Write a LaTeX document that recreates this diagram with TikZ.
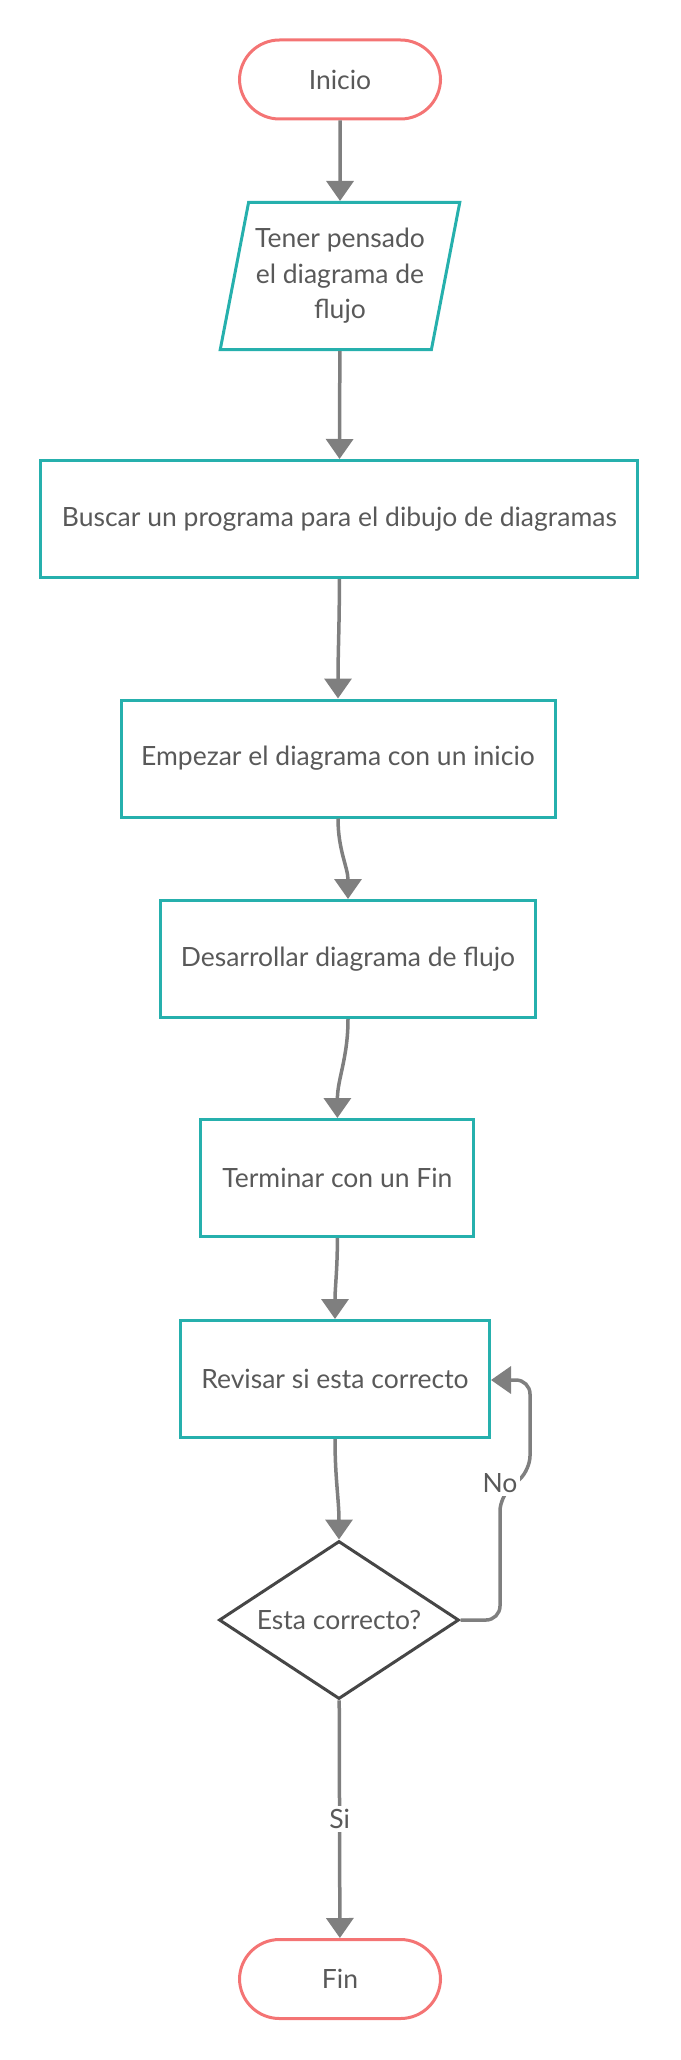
\documentclass[tikz,border=0pt]{standalone}
\usepackage{fontspec}
\setmainfont{Lato}
\usetikzlibrary{arrows.meta,shapes.geometric}
\definecolor{boxteal}{HTML}{26B0AD}
\definecolor{termred}{HTML}{F47474}
\definecolor{arrgray}{HTML}{7F7F7F}
\definecolor{txtgray}{HTML}{595959}
\definecolor{diagray}{HTML}{464646}

\begin{document}
\begin{tikzpicture}[x=1pt,y=-1pt,line width=3pt,
  every node/.style={font=\fontsize{26.5}{35.5}\selectfont,text=txtgray},
  term/.style={draw=termred,rounded corners=40pt,minimum width=201pt,minimum height=79pt},
  proc/.style={draw=boxteal,minimum height=117pt},
  io/.style={draw=boxteal,trapezium,trapezium left angle=75,trapezium right angle=105,
    trapezium stretches=true,minimum width=240pt,minimum height=147pt,align=center},
  cond/.style={draw=diagray,diamond,inner sep=0pt,minimum width=240pt,minimum height=158pt},
  arr/.style={draw=arrgray,line width=3.5pt,-{Triangle[width=27pt,length=20pt]}},
  lbl/.style={fill=white,inner sep=3pt}]
\useasboundingbox (0,0) rectangle (680,2060);
\node[term] (ini) at (340,79.5) {Inicio};
\node[io] (par) at (340,276) {Tener pensado\\el diagrama de\\flujo};
\node[proc,minimum width=597pt] (b1) at (339.4,519) {Buscar un programa para el dibujo de diagramas};
\node[proc,minimum width=434pt] (b2) at (338,758.5) {Empezar el diagrama con un inicio};
\node[proc,minimum width=375pt] (b3) at (348,959) {Desarrollar diagrama de flujo};
\node[proc,minimum width=273pt] (b4) at (337.4,1178) {Terminar con un Fin};
\node[proc,minimum width=309pt] (b5) at (335,1379) {Revisar si esta correcto};
\node[cond] (dia) at (339,1620) {\makebox[0pt]{Esta correcto?}};
\node[term] (fin) at (340,1979) {Fin};
\coordinate (c1) at (500,1620);
\coordinate (c2) at (500,1497);
\coordinate (c3) at (530,1470);
\coordinate (c4) at (530,1380);
\draw[arr] (ini) -- (par);
\draw[arr] (par) -- (b1);
\draw[arr] (b1.south) to[out=-90,in=90] (b2.north);
\draw[arr] (b2.south) to[out=-90,in=90] (b3.north);
\draw[arr] (b3.south) to[out=-90,in=90] (b4.north);
\draw[arr] (b4.south) to[out=-90,in=90] (b5.north);
\draw[arr] (b5.south) to[out=-90,in=90] (dia.north);
\draw[arr] (dia) -- node[lbl] {Si} (fin);
\draw[arr,rounded corners=14pt] (dia.east) -- (c1) -- (c2) -- (c3) -- (c4) -- (b5.east |- c4);
\node[lbl] (no) at (500,1483) {No};
\end{tikzpicture}
\end{document}
